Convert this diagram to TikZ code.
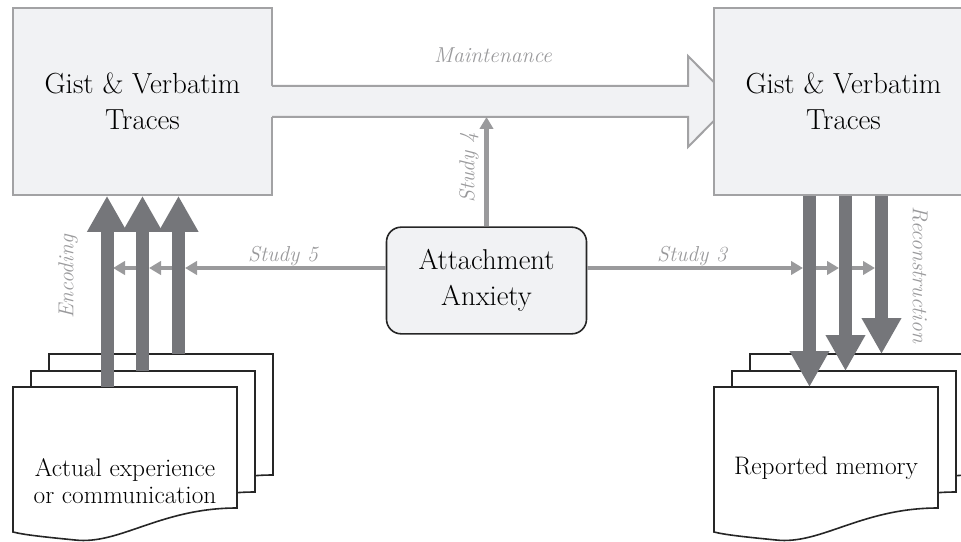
\documentclass[tikz,border=0pt]{standalone}
\usepackage[dvipsnames]{xcolor}
\definecolor{colorBox}{HTML}{F1F2F4}
\definecolor{colorFrame}{HTML}{A2A2A4}
\definecolor{colorFlow}{HTML}{75767A}
\definecolor{colorStudy}{HTML}{9A9A9C}
\usepackage{tikz}
\usetikzlibrary{arrows.meta, positioning}
\tikzset{
  trace/.style={draw=colorFrame, fill=colorBox, line width=1.5pt, minimum width=194pt, minimum height=140pt, inner sep=0pt, align=center, font=\fontsize{21.8}{27}\selectfont},
  factor/.style={draw=black!85, fill=colorBox, line width=1.2pt, rounded corners=11pt, minimum width=150pt, minimum height=80pt, align=center, font=\fontsize{21.5}{27}\selectfont},
  doctext/.style={align=center, font=\fontsize{19}{20}\selectfont},
  pathlabel/.style={text=colorStudy, font=\fontsize{16.2}{18}\selectfont\itshape},
  flow/.style={draw=colorFlow, line width=9.75pt, -{Triangle[width=28pt,length=27pt]}},
  study/.style={draw=colorStudy, line width=3.4pt, -{Triangle[width=10pt,length=9pt]}},
  page/.style={draw=black!85, fill=white, line width=1.2pt}
}

\begin{document}
\begin{tikzpicture}[x=0.75pt, y=-0.75pt]
\path[use as bounding box, clip] (0,0) rectangle (961,542);

% memory traces
\node[trace] (gl) at (142.5,101.5) {Gist \& Verbatim\\Traces};
\fill[colorBox] (270,86) -- (688,86) -- (688,56) -- (733,101.5) -- (688,147) -- (688,117) -- (270,117) -- cycle;
\draw[colorFrame, line width=1.5pt] (272,86) -- (688,86) -- (688,56) -- (733,101.5) -- (688,147) -- (688,117) -- (272,117);
\node[trace] (gr) at (843.5,101.5) {Gist \& Verbatim\\Traces};
\node[pathlabel] (mnt) at (493,55) {Maintenance};

% documents
\foreach \dx/\dy in {36/-33, 18/-16, 0/0} {
  \draw[page, shift={(\dx,\dy)}] (13,387) -- (237,387) -- (237,508) .. controls (160,508) and (120,545) .. (75,540) .. controls (45,537) and (25,535) .. (13,532) -- cycle;
  \draw[page, shift={(\dx+701,\dy)}] (13,387) -- (237,387) -- (237,508) .. controls (160,508) and (120,545) .. (75,540) .. controls (45,537) and (25,535) .. (13,532) -- cycle;
}
\node[doctext] (exp) at (125,481) {Actual experience\\or communication};
\node[doctext] (mem) at (826,468) {Reported memory};

% moderator
\node[factor] (anx) at (486.5,280.5) {Attachment\\Anxiety};
\coordinate (m4) at (487,117);
\draw[study] (anx.north) -- (anx.north |- m4);
\node[pathlabel, rotate=90] (st4) at (469,168) {Study 4};

\draw[study] (anx.west |- 0,268) -- (185,268);
\draw[study] (178,268) -- (149,268);
\draw[study] (142,268) -- (113,268);
\node[pathlabel] (st5) at (283,256) {Study 5};

\draw[study] (anx.east |- 0,268) -- (803,268);
\draw[study] (810,268) -- (839,268);
\draw[study] (846,268) -- (875,268);
\node[pathlabel] (st3) at (692,256) {Study 3};

% encoding
\coordinate (e1) at (107,387);
\coordinate (e2) at (142.5,371);
\coordinate (e3) at (178.5,354);
\foreach \e in {e1, e2, e3}
  \draw[flow] (\e) -- (\e |- gl.south);
\node[pathlabel, rotate=90] (enc) at (68,277) {Encoding};

% reconstruction
\coordinate (r1) at (809.5,387);
\coordinate (r2) at (845.5,371);
\coordinate (r3) at (881.5,354);
\foreach \r in {r1, r2, r3}
  \draw[flow] (\r |- gr.south) -- (\r);
\node[pathlabel, rotate=-90] (rec) at (920,275) {Reconstruction};
\end{tikzpicture}
\end{document}
